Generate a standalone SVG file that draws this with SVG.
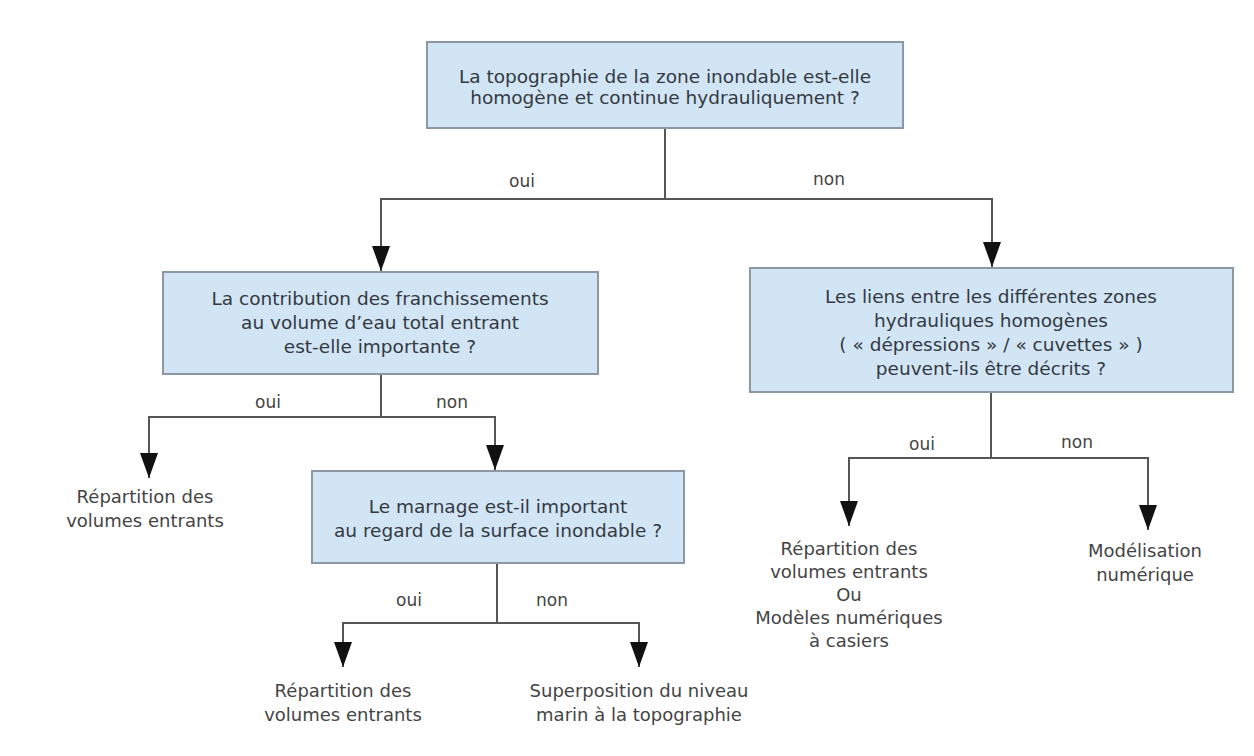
<svg xmlns="http://www.w3.org/2000/svg" width="1254" height="756" viewBox="0 0 1254 756">
<defs>
<marker id="arr" markerUnits="userSpaceOnUse" markerWidth="26" markerHeight="18" refX="25" refY="9" orient="auto">
<path d="M0,0 L25,9 L0,18 z" fill="#111"/>
</marker>
<style>
.box{fill:#d2e5f4;stroke:#8c99a4;stroke-width:2}
.t{font-family:"DejaVu Sans","Liberation Sans",sans-serif;font-size:18.5px;fill:#333942;text-anchor:middle}
.lbl{font-family:"DejaVu Sans","Liberation Sans",sans-serif;font-size:17px;fill:#444;text-anchor:middle}
.leaf{font-family:"DejaVu Sans","Liberation Sans",sans-serif;font-size:18px;fill:#444;text-anchor:middle}
.c{fill:none;stroke:#555;stroke-width:2}
</style>
</defs>
<rect width="1254" height="756" fill="#fff"/>
<g id="connectors">
<path class="c" d="M665,128 V199"/>
<path class="c" d="M665,199 H381 V271" marker-end="url(#arr)"/>
<path class="c" d="M665,199 H992 V267" marker-end="url(#arr)"/>
<path class="c" d="M381,374 V417"/>
<path class="c" d="M381,417 H149 V478" marker-end="url(#arr)"/>
<path class="c" d="M381,417 H495 V470" marker-end="url(#arr)"/>
<path class="c" d="M497,563 V623"/>
<path class="c" d="M497,623 H343 V667" marker-end="url(#arr)"/>
<path class="c" d="M497,623 H639 V667" marker-end="url(#arr)"/>
<path class="c" d="M991,392 V458"/>
<path class="c" d="M991,458 H849 V526" marker-end="url(#arr)"/>
<path class="c" d="M991,458 H1148 V530" marker-end="url(#arr)"/>
<text class="lbl" x="522" y="187">oui</text>
<text class="lbl" x="829" y="185">non</text>
<text class="lbl" x="268" y="408">oui</text>
<text class="lbl" x="452" y="408">non</text>
<text class="lbl" x="409" y="606">oui</text>
<text class="lbl" x="552" y="606">non</text>
<text class="lbl" x="922" y="450">oui</text>
<text class="lbl" x="1077" y="448">non</text>
</g>
<g id="q1">
<rect class="box" x="427" y="42" width="476" height="86"/>
<text class="t" x="665" y="83">La topographie de la zone inondable est-elle</text>
<text class="t" x="665" y="104">homogène et continue hydrauliquement ?</text>
</g>
<g id="q2">
<rect class="box" x="163" y="272" width="435" height="102"/>
<text class="t" x="380" y="305">La contribution des franchissements</text>
<text class="t" x="380" y="329">au volume d’eau total entrant</text>
<text class="t" x="380" y="353">est-elle importante ?</text>
</g>
<g id="q3">
<rect class="box" x="750" y="268" width="483" height="124"/>
<text class="t" x="991" y="303">Les liens entre les différentes zones</text>
<text class="t" x="991" y="327">hydrauliques homogènes</text>
<text class="t" x="991" y="351">( « dépressions » / « cuvettes » )</text>
<text class="t" x="991" y="375">peuvent-ils être décrits ?</text>
</g>
<g id="q4">
<rect class="box" x="312" y="471" width="372" height="92"/>
<text class="t" x="498" y="513">Le marnage est-il important</text>
<text class="t" x="498" y="537">au regard de la surface inondable ?</text>
</g>
<g id="leaf1">
<text class="leaf" x="145" y="503">Répartition des</text>
<text class="leaf" x="145" y="527">volumes entrants</text>
</g>
<g id="leaf2">
<text class="leaf" x="343" y="697">Répartition des</text>
<text class="leaf" x="343" y="721">volumes entrants</text>
</g>
<g id="leaf3">
<text class="leaf" x="639" y="697">Superposition du niveau</text>
<text class="leaf" x="639" y="721">marin à la topographie</text>
</g>
<g id="leaf4">
<text class="leaf" x="849" y="555">Répartition des</text>
<text class="leaf" x="849" y="578">volumes entrants</text>
<text class="leaf" x="849" y="601">Ou</text>
<text class="leaf" x="849" y="624">Modèles numériques</text>
<text class="leaf" x="849" y="647">à casiers</text>
</g>
<g id="leaf5">
<text class="leaf" x="1145" y="557">Modélisation</text>
<text class="leaf" x="1145" y="581">numérique</text>
</g>
</svg>
